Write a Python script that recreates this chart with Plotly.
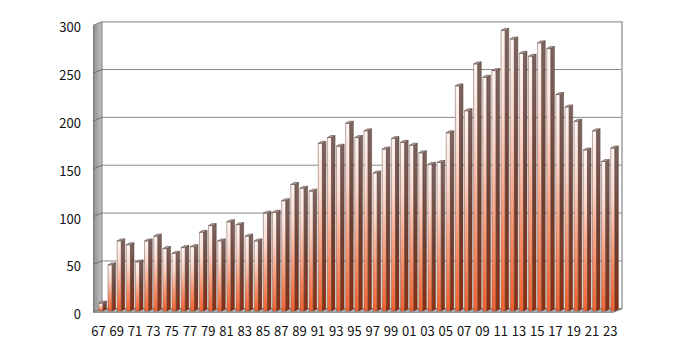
import plotly.graph_objects as go

# ---- data ----
years = list(range(1967, 2024))
values = [8, 48, 73, 69, 51, 73, 78, 65, 60, 66,
          67, 82, 89, 73, 93, 90, 78, 73, 102, 103,
          115, 132, 128, 125, 175, 181, 172, 196, 181, 188,
          144, 169, 180, 176, 173, 165, 153, 155, 186, 235,
          209, 258, 244, 251, 293, 284, 269, 266, 280, 274,
          226, 213, 198, 168, 188, 156, 170]
y_ticks = [0, 50, 100, 150, 200, 250, 300]
x_tick_years = years[::2]
x_tick_labels = [f"{y % 100:02d}" for y in x_tick_years]

# ---- geometry of pseudo-3D (in axis units) ----
DXD, DYD = 0.93, 3.6      # wall depth offset
BX0, BX1 = 0.04, 0.50     # bar front face
BDX, BDY = 0.38, 2.1      # bar depth offset
XB0, XB1 = 0.38, 57.27    # back wall extents
YMAX = 300

fig = go.Figure()

def poly(xs, ys, **kw):
    fig.add_trace(go.Scatter(x=xs + [xs[0]], y=ys + [ys[0]], mode="lines",
                             fill="toself", hoverinfo="skip", showlegend=False, **kw))

# back wall gridlines
gx, gy = [], []
for v in y_ticks[:-1]:
    gx += [XB0, XB1, None]
    gy += [v, v, None]
fig.add_trace(go.Scatter(x=gx, y=gy, mode="lines", line=dict(color="#8a8a8a", width=1),
                         hoverinfo="skip", showlegend=False))
# top & right border
fig.add_trace(go.Scatter(x=[XB0, XB1, XB1], y=[YMAX, YMAX, 0], mode="lines",
                         line=dict(color="#b4b4b4", width=2), hoverinfo="skip", showlegend=False))

# left wall
poly([XB0 - DXD, XB0, XB0, XB0 - DXD], [-DYD, 0, YMAX, YMAX - DYD],
     line=dict(color="#7c7c7c", width=1),
     fillgradient=dict(type="horizontal",
                       colorscale=[[0, "#8e8e8e"], [1, "#c4c4c4"]]))
# left wall grid lines
wx, wy = [], []
for v in y_ticks[1:-1]:
    wx += [XB0 - DXD, XB0, None]
    wy += [v - DYD, v, None]
fig.add_trace(go.Scatter(x=wx, y=wy, mode="lines", line=dict(color="#6f6f6f", width=1),
                         hoverinfo="skip", showlegend=False))

# floor
poly([XB0 - DXD, XB0, XB1, XB1 - DXD], [-DYD, 0, 0, -DYD],
     line=dict(color="#7c7c7c", width=1), fillcolor="#b8b8b8")

# bars
ybase = -2.4
for i, v in enumerate(values):
    x0, x1 = i + BX0, i + BX1
    hf = v - BDY
    # front
    poly([x0, x1, x1, x0], [ybase, ybase, hf, hf],
         line=dict(color="#6e5650", width=0.5),
         fillgradient=dict(type="vertical",
                           colorscale=[[0, "#f4602c"], [0.35, "#f99a78"],
                                       [0.7, "#fdd9cd"], [1, "#fff6f3"]]))
    # side
    poly([x1, x1 + BDX, x1 + BDX, x1], [ybase, ybase + BDY, hf + BDY, hf],
         line=dict(color="#553c38", width=0.5),
         fillgradient=dict(type="vertical",
                           colorscale=[[0, "#8e2e0c"], [0.45, "#6e3e30"],
                                       [1, "#7e6661"]]))
    # cap
    poly([x0, x0 + BDX, x1 + BDX, x1], [hf, hf + BDY, hf + BDY, hf],
         line=dict(color="#553c38", width=0.5), fillcolor="#b0a09c")

font = dict(family="Noto Sans CJK JP, Noto Sans, sans-serif", size=13, color="#111111")
fig.update_layout(
    width=695, height=352,
    margin=dict(l=93, r=72, t=21, b=34),
    paper_bgcolor="white", plot_bgcolor="white",
    font=font,
    xaxis=dict(range=[-0.602, 57.385], showgrid=False, zeroline=False, showline=False,
               tickmode="array", tickvals=[i for i in range(0, len(years), 2)],
               ticktext=x_tick_labels, ticks="", ticklabelstandoff=8, tickfont=font),
    yaxis=dict(range=[-5.47, 300.72], showgrid=False, zeroline=False, showline=False,
               tickmode="array", tickvals=y_ticks, ticktext=[str(v) for v in y_ticks],
               ticks="", ticklabelstandoff=11, ticklabelshift=6, tickfont=font),
)

fig.write_html("out.html")
